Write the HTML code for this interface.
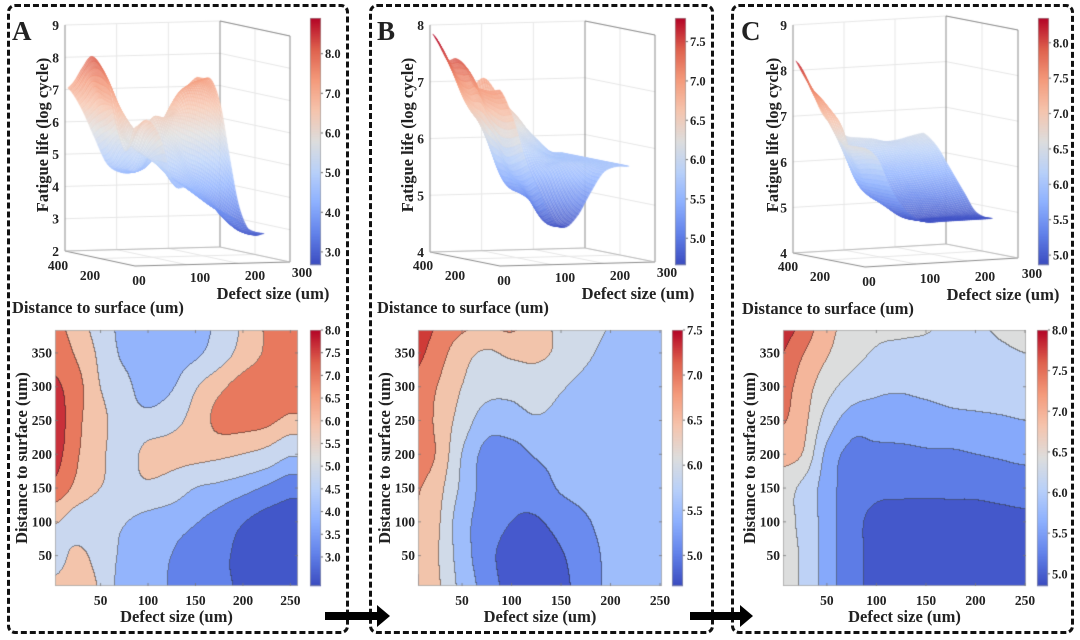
<!DOCTYPE html>
<html><head><meta charset="utf-8">
<style>
html,body{margin:0;padding:0;background:#fff;}
#root{position:relative;width:1080px;height:640px;overflow:hidden;background:#fff;font-family:"Liberation Serif",serif;}
canvas,svg{position:absolute;left:0;top:0;}
.box{position:absolute;border:3px dashed #111;border-radius:8px;box-sizing:border-box;}
</style></head>
<body>
<div id="root">
<div class="box" style="left:7px;top:4px;width:342px;height:630px"></div>
<div class="box" style="left:369px;top:4px;width:345px;height:630px"></div>
<div class="box" style="left:731px;top:4px;width:343px;height:630px"></div>
<canvas id="cv" width="1080" height="640"></canvas>
<svg id="sv" width="1080" height="640"></svg>
</div>
<script>
const defects=[0,25,50,75,100,125,150,175,200,225,250];
const dists=[0,50,100,150,200,250,300,350,400];
const zA=[
[6.3,6.5,5.9,4.5,4.4,4.15,3.8,3.55,3.3,3.0,2.9],
[5.5,6.2,5.6,4.8,4.5,4.2,3.9,3.6,3.2,2.9,2.8],
[6.1,5.6,5.3,5.05,4.7,4.5,4.25,3.9,3.45,3.1,3.0],
[7.4,6.6,6.0,5.7,5.8,5.5,5.0,4.8,4.5,4.1,3.7],
[8.0,6.9,6.2,5.5,6.3,6.3,6.3,6.2,6.0,5.7,5.1],
[8.2,7.0,6.3,5.4,5.3,5.7,6.3,7.0,7.1,7.0,6.6],
[7.8,7.1,6.0,5.3,4.6,4.9,5.9,6.6,7.1,7.3,7.3],
[7.3,6.7,5.8,4.8,4.5,4.5,4.8,5.5,6.3,6.9,7.3],
[7.0,6.4,5.5,4.7,4.4,4.4,4.6,5.2,6.1,6.9,7.3]];
const zB=[
[7.1,6.6,5.85,5.3,4.8,4.65,4.85,5.25,5.6,5.7,5.7],
[7.05,6.55,5.75,5.2,4.75,4.7,4.95,5.3,5.6,5.7,5.7],
[7.05,6.6,5.7,5.3,5.0,4.95,5.2,5.45,5.65,5.7,5.7],
[7.1,6.7,5.9,5.3,5.15,5.25,5.55,5.65,5.7,5.7,5.7],
[7.4,6.95,6.0,5.35,5.3,5.55,5.65,5.7,5.7,5.7,5.7],
[7.5,6.9,6.3,5.75,5.8,5.95,5.85,5.75,5.7,5.7,5.7],
[7.45,7.0,6.5,6.2,6.15,6.25,6.05,5.85,5.7,5.7,5.7],
[7.7,7.25,6.7,6.45,6.6,6.6,6.4,6.1,5.85,5.7,5.7],
[7.9,7.5,7.2,7.1,7.2,6.8,6.35,6.2,6.0,5.75,5.7]];
const zC=[
[6.6,6.35,5.7,5.25,5.0,4.9,4.9,4.9,4.9,4.9,4.9],
[6.6,6.35,5.7,5.25,5.0,4.9,4.9,4.9,4.9,4.9,4.9],
[6.6,6.3,5.7,5.25,5.0,4.92,4.92,4.93,4.95,4.97,5.0],
[6.7,6.3,5.7,5.3,5.2,5.2,5.2,5.2,5.2,5.25,5.3],
[7.1,6.9,5.8,5.4,5.4,5.4,5.45,5.45,5.5,5.55,5.6],
[7.5,7.1,6.2,5.7,5.7,5.75,5.75,5.8,5.82,5.85,5.9],
[7.7,7.2,6.6,6.2,6.0,5.95,6.0,6.05,6.1,6.15,6.2],
[8.0,7.45,6.95,6.6,6.35,6.3,6.3,6.3,6.3,6.35,6.4],
[8.3,7.85,7.1,6.75,6.55,6.5,6.45,6.35,6.38,6.45,6.5]];
const levelsA=[2.0,3.4,4.2,5.0,6.0,6.8,7.6,9.0];
const levelsB=[4.0,5.0,5.5,6.0,6.5,7.0,7.5,9.0];
const levelsC=[4.0,5.1,5.5,5.9,6.4,6.9,7.4,7.9,9.0];
const bandColorsA=['#4257c9','#6282ea','#93b4fc','#c9d7ef','#f3c4ab','#e8795e','#c9303a'];
const bandColorsB=['#4659cd','#6a8bef','#9ebdfb','#d0dae8','#f2c4ab','#ea8166','#cf3b37'];
const bandColorsC=['#4458cb','#5d7ce6','#86a9fb','#bed2f6','#dcdddd','#f4b69b','#e2705a','#c42e36'];
const zTicksA=[2,3,4,5,6,7,8,9];
const zTicksB=[4,5,6,7,8];
const zTicksC=[4,5,6,7,8,9];
const cbTopTicksA=[3.0,4.0,5.0,6.0,7.0,8.0];
const cbTopTicksB=[5.0,5.5,6.0,6.5,7.0,7.5];
const cbTopTicksC=[5.0,5.5,6.0,6.5,7.0,7.5,8.0];
const cbBotTicksA=[3.0,3.5,4.0,4.5,5.0,5.5,6.0,6.5,7.0,7.5,8.0];
const cbBotTicksB=[5.0,5.5,6.0,6.5,7.0,7.5];
const cbBotTicksC=[5.0,5.5,6.0,6.5,7.0,7.5,8.0];
const xTicks=[50,100,150,200,250];
const yTicks=[50,100,150,200,250,300,350];

const NS='http://www.w3.org/2000/svg';
const sv=document.getElementById('sv');
const ctx=document.getElementById('cv').getContext('2d');
const FONT='"Liberation Serif",serif';

function cr(p0,p1,p2,p3,t){return 0.5*((2*p1)+(-p0+p2)*t+(2*p0-5*p1+4*p2-p3)*t*t+(-p0+3*p1-3*p2+p3)*t*t*t);}
function interp(g,d,s){
  const nx=defects.length,ny=dists.length;
  let fx=(d-defects[0])/(defects[1]-defects[0]);let fy=(s-dists[0])/(dists[1]-dists[0]);
  fx=Math.max(0,Math.min(nx-1,fx));fy=Math.max(0,Math.min(ny-1,fy));
  const ix=Math.min(Math.floor(fx),nx-2),iy=Math.min(Math.floor(fy),ny-2);
  const tx=fx-ix,ty=fy-iy;
  const G=(j,i)=>g[Math.max(0,Math.min(ny-1,j))][Math.max(0,Math.min(nx-1,i))];
  const r=[];
  for(let jj=-1;jj<=2;jj++)r.push(cr(G(iy+jj,ix-1),G(iy+jj,ix),G(iy+jj,ix+1),G(iy+jj,ix+2),tx));
  return cr(r[0],r[1],r[2],r[3],ty);
}
const CW=[[0,59,76,192],[0.125,98,130,234],[0.25,141,176,254],[0.375,184,208,249],[0.5,221,221,221],[0.625,245,196,173],[0.75,244,154,123],[0.875,222,96,77],[1,180,4,38]];
function cw(t){t=Math.max(0,Math.min(1,t));for(let i=1;i<CW.length;i++){if(t<=CW[i][0]){const a=CW[i-1],b=CW[i];const u=(t-a[0])/(b[0]-a[0]);return [0,1,2].map(k=>Math.round(a[k+1]+(b[k+1]-a[k+1])*u));}}return [180,4,38];}
function rgb(c){return 'rgb('+c[0]+','+c[1]+','+c[2]+')';}

function txt(x,y,s,name,opts){
  const t=document.createElementNS(NS,'text');
  t.setAttribute('x',x);t.setAttribute('y',y);
  t.setAttribute('font-family',FONT);t.setAttribute('font-weight','bold');
  t.setAttribute('font-size',(opts&&opts.size)||13.5);
  t.setAttribute('fill','#222');
  if(opts&&opts.anchor)t.setAttribute('text-anchor',opts.anchor);
  if(opts&&opts.rot)t.setAttribute('transform','rotate(-90 '+x+' '+y+')');
  t.textContent=s;
  
  
  sv.appendChild(t);return t;
}

function draw3D(P,grid,ticks,label,cmin,cmax){
  const k=(P.oy+P.Dy[1]-P.top)/(P.zmax-P.zmin);
  const pr=(d,s,z)=>[P.ox+d/300*P.Dx[0]+s/400*P.Dy[0], P.oy+d/300*P.Dx[1]+s/400*P.Dy[1]-(z-P.zmin)*k];
  const line=(a,b,col,w)=>{ctx.strokeStyle=col;ctx.lineWidth=w;ctx.beginPath();ctx.moveTo(a[0],a[1]);ctx.lineTo(b[0],b[1]);ctx.stroke();};
  const grid3='#e6e6e6';
  ticks.forEach(z=>{line(pr(0,400,z),pr(300,400,z),grid3,1);line(pr(300,400,z),pr(300,0,z),grid3,1);});
  [100,200].forEach(d=>{line(pr(d,400,P.zmin),pr(d,400,P.zmax),grid3,1);line(pr(d,0,P.zmin),pr(d,400,P.zmin),grid3,1);});
  [200].forEach(s=>{line(pr(300,s,P.zmin),pr(300,s,P.zmax),grid3,1);line(pr(0,s,P.zmin),pr(300,s,P.zmin),grid3,1);});
  const ax='#8a8a8a';
  line(pr(0,400,P.zmin),pr(0,400,P.zmax),ax,1);
  line(pr(300,400,P.zmin),pr(300,400,P.zmax),ax,1);
  line(pr(300,0,P.zmin),pr(300,0,P.zmax),ax,1);
  line(pr(300,400,P.zmax),pr(300,0,P.zmax),ax,1);
  line(pr(0,400,P.zmin),pr(0,0,P.zmin),ax,1);
  line(pr(0,0,P.zmin),pr(300,0,P.zmin),ax,1);
  line(pr(0,400,P.zmin),pr(300,400,P.zmin),'#bbb',1);
  line(pr(300,400,P.zmin),pr(300,0,P.zmin),'#bbb',1);
  const N=56,M=64,dMax=250,sMax=384;
  const Z=[];
  for(let j=0;j<=M;j++){Z.push([]);for(let i=0;i<=N;i++)Z[j].push(interp(grid,i/N*dMax,j/M*sMax));}
  const quads=[];
  for(let j=0;j<M;j++)for(let i=0;i<N;i++){
    const d0=i/N*dMax,d1=(i+1)/N*dMax,s0=j/M*sMax,s1=(j+1)/M*sMax;
    const zm=(Z[j][i]+Z[j][i+1]+Z[j+1][i]+Z[j+1][i+1])/4;
    const depth=(d0+d1)/2*4/300+(s0+s1)/2*15/400;
    quads.push({pts:[pr(d0,s0,Z[j][i]),pr(d1,s0,Z[j][i+1]),pr(d1,s1,Z[j+1][i+1]),pr(d0,s1,Z[j+1][i])],zm,depth});
  }
  quads.sort((a,b)=>b.depth-a.depth);
  quads.forEach(q=>{
    const c=cw((q.zm-cmin)/(cmax-cmin));
    const l=c.map(v=>Math.round(v+(255-v)*0.35));
    ctx.fillStyle=rgb(l);ctx.strokeStyle=rgb(c);ctx.lineWidth=0.45;
    ctx.beginPath();q.pts.forEach((p,n)=>n?ctx.lineTo(p[0],p[1]):ctx.moveTo(p[0],p[1]));ctx.closePath();ctx.fill();ctx.stroke();
  });
  ticks.forEach(z=>{const p=pr(0,400,z);txt(p[0]-6,p[1]+5,String(z),label+'-z-tick',{anchor:'end'});});
  const o=[P.ox,P.oy];
  txt(o[0]-77,o[1]+4,'400',label+'-distance-tick',{anchor:'middle'});
  txt(o[0]-45,o[1]+14,'200',label+'-distance-tick',{anchor:'middle'});
  txt(o[0]+4,o[1]+19,'00',label+'-origin-tick',{anchor:'middle'});
  txt(o[0]+65,o[1]+16,'100',label+'-defect-tick',{anchor:'middle'});
  txt(o[0]+120,o[1]+14,'200',label+'-defect-tick',{anchor:'middle'});
  txt(o[0]+167,o[1]+11,'300',label+'-defect-tick',{anchor:'middle'});
  txt(o[0]+138,o[1]+33,'Defect size (um)',label+'-3d-x-title',{anchor:'middle',size:16.5});
  txt(o[0]-123,o[1]+47,'Distance to surface (um)',label+'-3d-y-title',{size:16.5});
  txt(o[0]-87,135,'Fatigue life (log cycle)',label+'-3d-z-title',{anchor:'middle',size:16.5,rot:true});
}

function colorbar(x,y0,y1,vmin,vmax,ticks,name){
  const h=y1-y0;
  for(let yy=0;yy<h;yy++){ctx.fillStyle=rgb(cw(1-yy/(h-1)));ctx.fillRect(x,y0+yy,11,1.2);}
  ctx.strokeStyle='#999';ctx.lineWidth=0.6;ctx.strokeRect(x+0.3,y0+0.3,10.4,h-0.6);
  ticks.forEach(v=>{const y=y1-(v-vmin)/(vmax-vmin)*h;
    ctx.fillStyle='#666';ctx.fillRect(x+11,y-0.5,2,1);
    txt(x+15,y+4.5,v.toFixed(1),name+'-tick',{size:12.5});});
}

function contour(R,grid,levels,colors,label){
  const W=R.x1-R.x0,H=R.y1-R.y0;
  const img=ctx.createImageData(W,H);const band=new Int8Array(W*H);
  for(let py=0;py<H;py++)for(let px=0;px<W;px++){
    const d=R.d0+(px+0.5)/W*(R.d1-R.d0);const s=R.s1-(py+0.5)/H*(R.s1-R.s0);
    const z=interp(grid,d,s);let b=0;while(b<levels.length-2&&z>=levels[b+1])b++;band[py*W+px]=b;}
  const cols=colors.map(h=>[parseInt(h.substr(1,2),16),parseInt(h.substr(3,2),16),parseInt(h.substr(5,2),16)]);
  for(let py=0;py<H;py++)for(let px=0;px<W;px++){
    const i=py*W+px;let c=cols[band[i]];
    const edge=(px<W-1&&band[i+1]!==band[i])||(py<H-1&&band[i+W]!==band[i]);
    if(edge)c=c.map(v=>Math.round(v*0.5+40*0.5));
    img.data[i*4]=c[0];img.data[i*4+1]=c[1];img.data[i*4+2]=c[2];img.data[i*4+3]=255;}
  ctx.putImageData(img,R.x0,R.y0);
  ctx.strokeStyle='#aaa';ctx.lineWidth=0.8;ctx.strokeRect(R.x0+0.4,R.y0+0.4,W-0.8,H-0.8);
  const xs=d=>R.x0+(d-R.d0)/(R.d1-R.d0)*W, ys=s=>R.y1-(s-R.s0)/(R.s1-R.s0)*H;
  ctx.strokeStyle='#777';ctx.lineWidth=0.8;
  xTicks.forEach(d=>{const x=xs(d);ctx.beginPath();ctx.moveTo(x,R.y1);ctx.lineTo(x,R.y1-3);ctx.moveTo(x,R.y0);ctx.lineTo(x,R.y0+3);ctx.stroke();
    txt(x,R.y1+19,String(d),label+'-x-tick',{anchor:'middle'});});
  yTicks.forEach(s=>{const y=ys(s);ctx.beginPath();ctx.moveTo(R.x0,y);ctx.lineTo(R.x0+3,y);ctx.moveTo(R.x1,y);ctx.lineTo(R.x1-3,y);ctx.stroke();
    txt(R.x0-3,y+4.5,String(s),label+'-y-tick',{anchor:'end'});});
  txt((R.x0+R.x1)/2,R.y1+36,'Defect size (um)',label+'-x-title',{anchor:'middle',size:16.5});
  txt(R.x0-28,(R.y0+R.y1)/2,'Distance to surface (um)',label+'-y-title',{anchor:'middle',size:16.5,rot:true});
}

draw3D({ox:135,oy:266,Dx:[155,-4],Dy:[-70,-15],zmin:2,zmax:9,top:25},zA,zTicksA,'panel-a',2.67,8.9);
draw3D({ox:500,oy:266,Dx:[155,-4],Dy:[-70,-14],zmin:4,zmax:8,top:25},zB,zTicksB,'panel-b',4.66,7.8);
draw3D({ox:865,oy:267,Dx:[153,-9],Dy:[-72,-14],zmin:4,zmax:9,top:25},zC,zTicksC,'panel-c',4.86,8.35);
colorbar(310,18,265,2.67,8.9,cbTopTicksA,'panel-a-3d-colorbar');
colorbar(675,18,265,4.66,7.8,cbTopTicksB,'panel-b-3d-colorbar');
colorbar(1038,18,265,4.86,8.35,cbTopTicksC,'panel-c-3d-colorbar');
contour({x0:55,x1:298,y0:330,y1:586,d0:2,d1:258,s0:5,s1:384},zA,levelsA,bandColorsA,'panel-a-contour');
contour({x0:418,x1:662,y0:330,y1:586,d0:5.5,d1:252,s0:5,s1:384},zB,levelsB,bandColorsB,'panel-b-contour');
contour({x0:783,x1:1026,y0:330,y1:586,d0:5.7,d1:251,s0:5,s1:384},zC,levelsC,bandColorsC,'panel-c-contour');
colorbar(310,330,586,2.36,8.0,cbBotTicksA,'panel-a-contour-colorbar');
colorbar(672,330,586,4.66,7.5,cbBotTicksB,'panel-b-contour-colorbar');
colorbar(1037,330,586,4.85,8.0,cbBotTicksC,'panel-c-contour-colorbar');

txt(12,40,'A','panel-a-label',{size:27});
txt(377,40,'B','panel-b-label',{size:27});
txt(741,40,'C','panel-c-label',{size:27});

[[325,390],[690,753]].forEach((a,i)=>{
  const p=document.createElementNS(NS,'polygon');
  const x0=a[0],x1=a[1],hx=x1-13;
  p.setAttribute('points',`${x0},612 ${hx},612 ${hx},605 ${x1},616 ${hx},627 ${hx},620 ${x0},620`);
  p.setAttribute('fill','#000');
  
  
  sv.appendChild(p);
});
</script>
</body></html>
